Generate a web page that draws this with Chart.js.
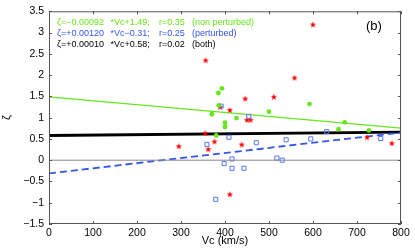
<!DOCTYPE html>
<html>
<head>
<meta charset="utf-8">
<script src="https://cdn.jsdelivr.net/npm/chart.js@4.4.1/dist/chart.umd.min.js"></script>
<style>
  html, body { margin: 0; padding: 0; background: #fff; }
  #wrap { width: 415px; height: 249px; }
</style>
</head>
<body>
<div id="wrap"><canvas id="graph" width="415" height="249"></canvas></div>
<script>
// values (Vc in km/s, zeta)
const starVc   = [295, 355, 356, 362, 376, 389, 411, 411, 438, 446, 450, 458, 511, 558, 600, 723, 779];
const starZeta = [0.33, 0.64, 2.35, 0.26, 0.44, 1.25, 1.18, -0.80, 0.37, 1.45, 0.95, 0.95, 1.49, 1.94, 3.19, 0.54, 0.40];

const greenVc   = [370, 380, 385, 386, 393, 400, 400, 426, 500, 592, 658, 672, 727];
const greenZeta = [1.08, 0.58, 1.58, 1.29, 1.69, 0.88, 0.78, 0.99, 1.14, 1.32, 0.73, 0.89, 0.70];

const blueVc   = [359, 379, 391, 398, 409, 416, 416, 443, 454, 471, 518, 530, 539, 595, 631, 754];
const blueZeta = [0.37, -0.92, 1.27, -0.08, 0.54, 0.03, -0.19, -0.19, 1.03, 0.41, 0.05, 0.00, 0.48, 0.50, 0.67, 0.51];

// fit lines, ends at Vc = 0 and 800
const fitVc        = [0, 800];
const fitNonPert   = [1.49, 0.754];
const fitPert      = [-0.31, 0.65];
const fitBoth      = [0.58, 0.66];
const zeroLine     = [0, 0];

// legend rows, split in columns like the original
const legendRows = [
    ["ζ=−0.00092", "*Vc+1.49;", "r=0.35", "(non perturbed)"],
    ["ζ=+0.00120", "*Vc−0.31;", "r=0.25", "(perturbed)"],
    ["ζ=+0.00010", "*Vc+0.58;", "r=0.02", "(both)"]
];
const panelLabel = "(b)";

const GREEN = "#66e61a";
const BLUE = "#3355ee";
const FONT = "'Liberation Sans', Arial, sans-serif";

function pts(xs, ys) {
    return xs.map((x, i) => ({x: x, y: ys[i]}));
}

// filled red pentagram, like matlab 'p' marker
function makeStar() {
    const c = document.createElement("canvas");
    c.width = 8; c.height = 8;
    const g = c.getContext("2d");
    g.fillStyle = "#ff0000";
    g.beginPath();
    for (let i = 0; i < 10; i++) {
        const r = i % 2 === 0 ? 3.3 : 1.4;
        const a = -Math.PI / 2 + i * Math.PI / 5;
        const px = 4 + r * Math.cos(a), py = 4.3 + r * Math.sin(a);
        if (i === 0) g.moveTo(px, py); else g.lineTo(px, py);
    }
    g.closePath();
    g.fill();
    return c;
}

const innerTicks = {
    id: "innerTicks",
    afterDraw(chart) {
        const ctx = chart.ctx;
        const a = chart.chartArea;
        const xs = chart.scales.x, ys = chart.scales.y;
        ctx.save();
        ctx.strokeStyle = "#555";
        ctx.lineWidth = 1;
        ctx.strokeRect(a.left + 0.5, a.top + 0.5, a.right - a.left - 1, a.bottom - a.top - 1);
        ctx.beginPath();
        xs.ticks.forEach(t => {
            const px = Math.round(xs.getPixelForValue(t.value)) + 0.5;
            ctx.moveTo(px, a.bottom); ctx.lineTo(px, a.bottom - 3);
            ctx.moveTo(px, a.top); ctx.lineTo(px, a.top + 3);
        });
        ys.ticks.forEach(t => {
            const py = Math.round(ys.getPixelForValue(t.value)) + 0.5;
            ctx.moveTo(a.left, py); ctx.lineTo(a.left + 3, py);
            ctx.moveTo(a.right, py); ctx.lineTo(a.right - 3, py);
        });
        ctx.stroke();

        ctx.font = "9px " + FONT;
        ctx.textBaseline = "middle";
        const colors = [GREEN, BLUE, "#000"];
        const cols = [8, 61.5, 110, 143];
        legendRows.forEach((row, i) => {
            ctx.fillStyle = colors[i];
            row.forEach((s, j) => ctx.fillText(s, a.left + cols[j], a.top + 11 + i * 11));
        });
        ctx.fillStyle = "#000";
        ctx.font = "13px " + FONT;
        ctx.fillText(panelLabel, a.right - 35, a.top + 15);
        ctx.restore();
    }
};

const chart = new Chart(document.getElementById("graph"), {
    type: "scatter",
    data: {
        datasets: [{
            type: "line",
            data: pts(fitVc, zeroLine),
            borderColor: "#888",
            borderWidth: 1,
            pointRadius: 0
        }, {
            data: pts(greenVc, greenZeta),
            pointStyle: "circle",
            pointRadius: 2.4,
            backgroundColor: GREEN,
            borderColor: GREEN,
            borderWidth: 0
        }, {
            data: pts(blueVc, blueZeta),
            pointStyle: "rect",
            pointRadius: 2.9,
            backgroundColor: "rgba(0,0,0,0)",
            borderColor: "#5577ee",
            borderWidth: 1
        }, {
            data: pts(starVc, starZeta),
            pointStyle: makeStar(),
            pointRadius: 4
        }, {
            type: "line",
            data: pts(fitVc, fitNonPert),
            borderColor: GREEN,
            borderWidth: 1.3,
            pointRadius: 0
        }, {
            type: "line",
            data: pts(fitVc, fitPert),
            borderColor: BLUE,
            borderWidth: 1.8,
            borderDash: [7, 4],
            pointRadius: 0
        }, {
            type: "line",
            data: pts(fitVc, fitBoth),
            borderColor: "#000",
            borderWidth: 2.8,
            pointRadius: 0
        }]
    },
    options: {
        responsive: false,
        animation: false,
        layout: {padding: {top: 7, right: 14, left: 0, bottom: 0}},
        plugins: {legend: {display: false}, tooltip: {enabled: false}},
        scales: {
            x: {
                type: "linear",
                min: 0, max: 800,
                grid: {display: false, drawTicks: false},
                border: {display: false},
                ticks: {stepSize: 100, padding: 3, color: "#000", font: {family: FONT, size: 10.5}, maxRotation: 0},
                title: {display: true, text: "Vc (km/s)", color: "#000", font: {family: FONT, size: 11}, padding: {top: 0, bottom: 1}},
                afterFit(s) { s.height = 25; }
            },
            y: {
                min: -1.5, max: 3.5,
                grid: {display: false, drawTicks: false},
                border: {display: false},
                ticks: {
                    stepSize: 0.5, padding: 5, color: "#000", font: {family: FONT, size: 10.5},
                    callback: v => String(v).replace("-", "−")
                },
                title: {display: true, text: "ζ", color: "#000", font: {family: FONT, size: 11}, padding: {top: 0, bottom: 1}},
                afterFit(s) { s.width = 49; }
            }
        }
    },
    plugins: [innerTicks]
});
</script>
</body>
</html>
